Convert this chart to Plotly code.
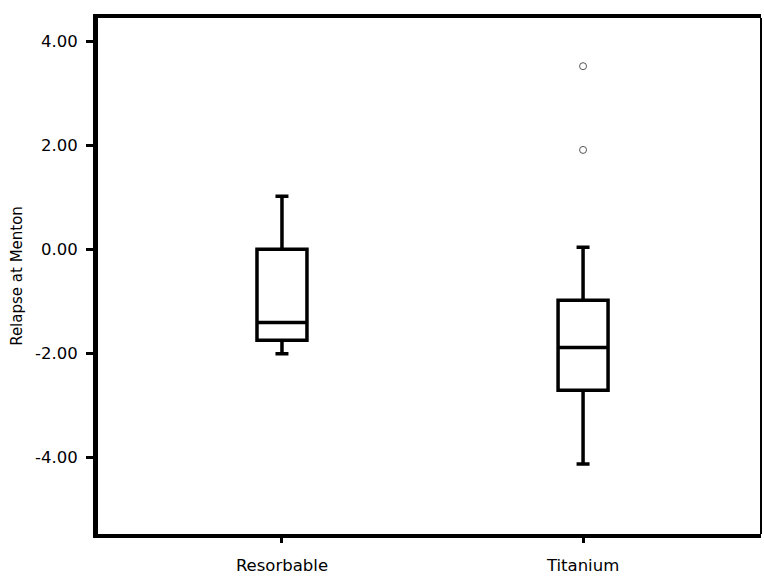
import plotly.graph_objects as go

# Data
groups = ["Resorbable", "Titanium"]
group_pos = [0, 1]
q1 = [-1.75, -2.71]
median = [-1.41, -1.89]
q3 = [0.00, -0.98]
lower_whisker = [-2.01, -4.13]
upper_whisker = [1.02, 0.04]

outlier_pos = [1, 1]
outlier_vals = [3.52, 1.91]

y_tick_vals = [4, 2, 0, -2, -4]
y_tick_text = ["4.00", "2.00", "0.00", "-2.00", "-4.00"]

FONT = "DejaVu Sans"

fig = go.Figure()
fig.add_trace(go.Box(
    x=group_pos,
    q1=q1, median=median, q3=q3,
    lowerfence=lower_whisker, upperfence=upper_whisker,
    boxpoints=False,
    width=0.166,
    whiskerwidth=0.26,
    fillcolor="white",
    line=dict(color="black", width=3.5),
    showlegend=False,
    hoverinfo="skip",
))
fig.add_trace(go.Scatter(
    x=outlier_pos, y=outlier_vals, mode="markers",
    marker=dict(symbol="circle-open", size=7, color="#555555", line=dict(width=1, color="#555555")),
    showlegend=False, hoverinfo="skip",
))

fig.update_layout(
    width=764, height=578,
    margin=dict(l=98, r=3, t=18, b=40),
    paper_bgcolor="white", plot_bgcolor="white",
    font=dict(family=FONT, color="black"),
    xaxis=dict(
        range=[-0.611, 1.591],
        tickvals=group_pos, ticktext=groups,
        tickfont=dict(size=16.5, family=FONT),
        showgrid=False, zeroline=False,
        showline=True, linecolor="black", linewidth=4, mirror=True,
        ticks="outside", ticklen=5, tickwidth=3, tickcolor="black",
        ticklabelstandoff=8,
    ),
    yaxis=dict(
        range=[-5.477, 4.447],
        tickvals=y_tick_vals, ticktext=y_tick_text,
        tickfont=dict(size=16.5, family=FONT),
        showgrid=False, zeroline=False,
        showline=True, linecolor="black", linewidth=5, mirror=False,
        ticks="outside", ticklen=7, tickwidth=3, tickcolor="black",
        ticklabelstandoff=5,
        title=dict(text="Relapse at Menton", font=dict(size=15, family=FONT), standoff=10),
    ),
    shapes=[dict(type="line", xref="paper", yref="paper", x0=1, x1=1, y0=0, y1=1,
                 line=dict(color="black", width=2))],
)

fig.write_html(
    "out.html",
    config={"displayModeBar": False},
    post_script="document.body.style.margin='0';document.body.style.overflow='hidden';",
)
